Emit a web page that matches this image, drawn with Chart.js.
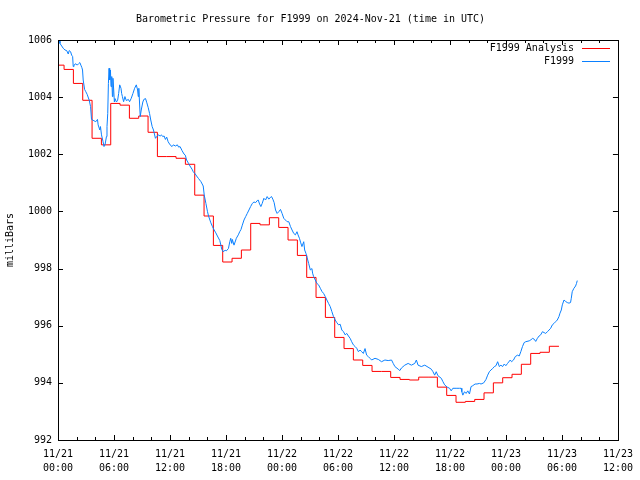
<!DOCTYPE html>
<html>
<head>
<meta charset="utf-8">
<script src="https://cdn.jsdelivr.net/npm/chart.js@4/dist/chart.umd.min.js"></script>
<style>
html,body{margin:0;padding:0;background:#fff;}
canvas{display:block;}
</style>
</head>
<body>
<canvas id="baro" width="640" height="480"></canvas>
<script>
// hours since 2024-11-21 00:00 UTC
const xTickLabels=[['11/21','00:00'],['11/21','06:00'],['11/21','12:00'],['11/21','18:00'],['11/22','00:00'],['11/22','06:00'],['11/22','12:00'],['11/22','18:00'],['11/23','00:00'],['11/23','06:00'],['11/23','12:00']];

// F1999 Analysis (hourly steps)
const analysisHours=[0,0.65,1.65,2.65,3.65,4.65,5.65,6.65,7.65,8.65,9.65,
  10.65,11.65,12.65,13.65,14.65,15.65,16.65,17.65,18.65,19.65,
  20.65,21.65,22.65,23.65,24.65,25.65,26.65,27.65,28.65,29.65,
  30.65,31.65,32.65,33.65,34.65,35.65,36.65,37.65,38.65,39.65,
  40.65,41.65,42.65,43.65,44.65,45.65,46.65,47.65,48.65,49.65,
  50.65,51.65,52.65,53.68];
const analysisValues=[1005.12,1004.97,1004.48,1003.89,1002.56,1002.33,1003.78,1003.72,1003.26,1003.34,1002.77,
  1001.92,1001.92,1001.86,1001.65,1000.57,999.84,998.81,998.23,998.36,998.65,
  999.58,999.53,999.78,999.44,999.0,998.46,997.69,996.99,996.29,995.59,
  995.2,994.8,994.61,994.4,994.4,994.19,994.12,994.1,994.2,994.2,
  993.85,993.56,993.32,993.35,993.42,993.65,994.0,994.18,994.3,994.65,
  995.03,995.07,995.28,995.28];

// F1999 observations
const obsHours=[0,0.14,0.21,0.56,0.75,0.93,1.10,1.20,1.35,1.46,1.57,1.63,1.71,1.92,2.06,2.21,2.34,2.45,2.56,2.63,
  2.70,2.85,2.98,3.12,3.34,3.49,3.59,3.76,4.05,4.23,4.30,4.48,4.55,4.66,4.83,4.93,5.04,5.19,5.25,5.33,
  5.40,5.47,5.54,5.62,5.68,5.76,5.83,5.89,5.97,6.04,6.11,6.26,6.39,6.50,6.61,6.75,6.82,6.90,7.03,7.17,
  7.32,7.54,7.67,7.85,8.03,8.21,8.39,8.53,8.60,8.66,8.81,8.92,9.09,9.20,9.38,9.52,9.67,9.81,9.94,10.09,
  10.23,10.44,10.58,10.73,10.95,11.08,11.22,11.37,11.51,11.65,11.80,12.01,12.22,12.36,12.58,12.79,12.93,13.08,13.29,13.50,
  13.64,13.78,13.99,14.14,14.36,14.49,14.71,14.85,15.06,15.32,15.56,15.67,15.85,16.02,16.13,16.38,16.55,16.73,16.91,17.08,
  17.34,17.45,17.55,17.69,17.91,18.04,18.26,18.41,18.51,18.62,18.68,18.86,19.05,19.11,19.32,19.47,19.61,19.75,19.93,20.11,
  20.28,20.46,20.64,20.82,21.00,21.18,21.35,21.45,21.60,21.74,21.88,22.06,22.24,22.41,22.59,22.78,22.88,23.02,23.16,23.31,
  23.48,23.66,23.84,24.01,24.19,24.37,24.55,24.73,24.91,25.08,25.26,25.44,25.61,25.72,25.87,26.01,26.14,26.33,26.43,26.57,
  26.68,26.86,27.04,27.21,27.28,27.39,27.57,27.74,27.92,28.11,28.28,28.46,28.64,28.81,28.99,29.17,29.34,29.52,29.70,29.87,
  30.06,30.24,30.41,30.59,30.77,30.94,31.12,31.30,31.47,31.65,31.84,32.01,32.19,32.37,32.54,32.72,32.90,33.07,33.25,33.43,
  33.61,33.97,34.32,34.67,35.03,35.38,35.74,35.92,36.10,36.45,36.63,36.80,37.16,37.52,37.87,38.23,38.40,38.58,38.93,39.30,
  39.65,40.00,40.18,40.36,40.53,40.71,41.07,41.25,41.43,41.71,41.96,42.13,42.31,42.66,43.03,43.20,43.27,43.38,43.56,43.73,
  43.91,44.09,44.26,44.44,44.69,44.90,45.16,45.33,45.62,45.86,46.04,46.22,46.39,46.57,46.76,46.93,47.11,47.29,47.46,47.64,
  47.82,47.99,48.17,48.46,48.60,48.81,49.00,49.24,49.42,49.59,49.77,49.95,50.12,50.49,50.66,50.84,51.02,51.19,51.37,51.55,
  51.72,51.91,52.09,52.26,52.44,52.62,52.79,52.97,53.15,53.32,53.50,53.68,53.79,53.93,54.04,54.22,54.39,54.57,54.75,54.92,
  55.00,55.10,55.28,55.46,55.56,55.64];
const obsValues=[1006.0,1005.98,1005.88,1005.71,1005.65,1005.63,1005.51,1005.63,1005.59,1005.47,1005.42,1005.07,1005.12,1005.17,1005.12,1005.17,1005.21,1005.12,1005.03,1004.95,
  1004.6,1004.27,1004.19,1004.1,1003.9,1003.67,1003.22,1003.19,1003.14,1003.22,1003.03,1002.85,1002.97,1002.68,1002.44,1002.27,1002.33,1002.62,1002.97,1003.43,
  1004.48,1005.01,1004.6,1004.95,1004.37,1004.72,1004.02,1004.66,1004.25,1003.83,1003.95,1003.83,1003.89,1004.13,1004.43,1004.31,1004.13,1004.02,1003.84,1004.02,
  1003.88,1003.92,1003.84,1003.96,1004.13,1004.31,1004.43,1004.25,1004.02,1004.31,1003.32,1003.55,1003.83,1003.92,1003.95,1003.8,1003.63,1003.43,1003.2,1002.97,
  1002.85,1002.56,1002.62,1002.68,1002.64,1002.68,1002.62,1002.64,1002.52,1002.6,1002.44,1002.33,1002.27,1002.33,1002.29,1002.33,1002.25,1002.27,1002.13,1002.01,
  1001.97,1001.8,1001.68,1001.59,1001.48,1001.39,1001.31,1001.24,1001.15,1001.04,1000.89,1000.57,1000.28,999.99,999.84,999.6,999.47,999.35,999.25,999.14,
  998.98,998.82,998.67,998.59,998.64,998.62,998.7,998.94,999.06,998.88,999.02,998.82,999.0,999.06,999.18,999.29,999.37,999.52,999.7,999.82,
  999.93,1000.05,1000.17,1000.28,1000.33,1000.31,1000.38,1000.4,1000.26,1000.17,1000.28,1000.46,1000.4,1000.52,1000.43,1000.5,1000.52,1000.43,1000.31,1000.05,
  999.93,999.99,1000.07,999.93,999.76,999.7,999.64,999.64,999.47,999.35,999.23,999.18,999.29,999.18,999.06,998.9,998.77,998.94,998.65,998.53,
  998.4,998.18,997.95,998.0,997.84,997.72,997.6,997.48,997.43,997.31,997.2,997.13,997.02,996.9,996.78,996.67,996.5,996.32,996.2,996.11,
  996.03,996.05,995.85,995.79,995.68,995.73,995.64,995.56,995.44,995.33,995.27,995.21,995.09,995.15,995.09,995.03,995.2,994.97,994.92,994.86,
  994.8,994.86,994.82,994.74,994.8,994.78,994.8,994.68,994.57,994.48,994.43,994.52,994.62,994.68,994.62,994.68,994.8,994.62,994.57,994.62,
  994.55,994.48,994.39,994.27,994.39,994.25,994.16,994.04,993.93,993.85,993.81,993.72,993.81,993.81,993.81,993.81,993.69,993.57,993.69,993.63,
  993.72,993.61,993.87,993.9,993.96,993.96,993.98,993.96,994.0,994.12,994.27,994.39,994.45,994.5,994.57,994.6,994.74,994.57,994.62,994.57,
  994.66,994.6,994.68,994.8,994.74,994.8,994.92,994.97,994.94,995.09,995.27,995.41,995.44,995.47,995.5,995.56,995.53,995.45,995.56,995.64,
  995.68,995.79,995.76,995.73,995.79,995.85,995.91,996.03,996.08,996.14,996.2,996.32,996.44,996.55,996.73,996.9,996.85,996.81,996.79,996.81,
  996.96,997.19,997.31,997.39,997.48,997.58];

const FONT='"DejaVu Sans Mono", "Liberation Mono", monospace';
const pts=(xs,ys)=>xs.map((x,i)=>({x,y:ys[i]}));

// gnuplot style frame: box, inward ticks mirrored, legend with line samples at right
const framePlugin={
  id:'frame',
  afterDraw(chart){
    const {ctx,chartArea:a,scales:{x,y}}=chart;
    ctx.save();
    ctx.strokeStyle='#000'; ctx.lineWidth=1;
    ctx.strokeRect(Math.round(a.left)+0.5,Math.round(a.top)+0.5,Math.round(a.right-a.left),Math.round(a.bottom-a.top));
    ctx.beginPath();
    y.ticks.forEach(t=>{
      const py=Math.round(y.getPixelForValue(t.value))+0.5;
      ctx.moveTo(a.left,py); ctx.lineTo(a.left+5,py);
      ctx.moveTo(a.right,py); ctx.lineTo(a.right-5,py);
    });
    for(let h=x.min;h<=x.max;h+=2){
      const len=(h%6===0)?5:3;
      const px=Math.round(x.getPixelForValue(h))+0.5;
      ctx.moveTo(px,a.bottom); ctx.lineTo(px,a.bottom-len);
      ctx.moveTo(px,a.top); ctx.lineTo(px,a.top+len);
    }
    ctx.stroke();
    // legend
    ctx.font='10px '+FONT; ctx.fillStyle='#000'; ctx.textAlign='right'; ctx.textBaseline='middle';
    chart.data.datasets.forEach((ds,i)=>{
      const ly=48+i*13;
      ctx.fillText(ds.label,574,ly);
      ctx.beginPath(); ctx.strokeStyle=ds.borderColor;
      ctx.moveTo(582,ly+0.5); ctx.lineTo(610,ly+0.5); ctx.stroke();
    });
    ctx.restore();
  }
};

new Chart(document.getElementById('baro'),{
  type:'line',
  data:{datasets:[
    {label:'F1999 Analysis',data:pts(analysisHours,analysisValues),borderColor:'#ff0000',borderWidth:1,stepped:true,pointRadius:0,order:1},
    {label:'F1999',data:pts(obsHours,obsValues),borderColor:'#0a80ff',borderWidth:1,pointRadius:0,tension:0,order:0}
  ]},
  options:{
    responsive:false,animation:false,devicePixelRatio:1,
    layout:{padding:{left:0,right:19,top:0,bottom:0}},
    plugins:{
      legend:{display:false},tooltip:{enabled:false},
      title:{display:true,text:'Barometric Pressure for F1999 on 2024-Nov-21 (time in UTC)',color:'#000',
        font:{family:FONT,size:10,weight:'normal'},padding:{top:13,bottom:15}}
    },
    scales:{
      x:{type:'linear',min:0,max:60,
        grid:{display:false,drawTicks:false},border:{display:false},
        ticks:{stepSize:6,autoSkip:false,maxRotation:0,padding:7,color:'#000',font:{family:FONT,size:10,lineHeight:1.4},
          callback:(v)=>xTickLabels[Math.round(v/6)]},
        afterFit:(s)=>{s.height=40;}},
      y:{min:992,max:1006,
        grid:{display:false,drawTicks:false},border:{display:false},
        ticks:{stepSize:2,padding:6,color:'#000',font:{family:FONT,size:10},callback:(v)=>String(v)},
        title:{display:true,text:'milliBars',color:'#000',font:{family:FONT,size:10},padding:{top:4,bottom:0}},
        afterFit:(s)=>{s.width=58;}}
    }
  },
  plugins:[framePlugin]
});
</script>
</body>
</html>
